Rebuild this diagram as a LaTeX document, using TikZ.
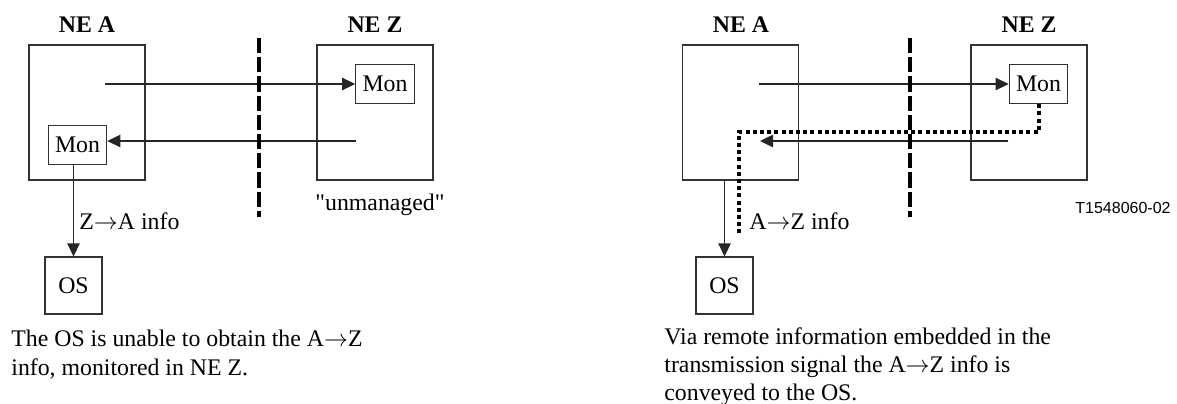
\documentclass[tikz,border=0pt]{standalone}
\usepackage{fontspec}
\setmainfont{Liberation Serif}
\newfontfamily\rawserif[Ligatures=TeXOff]{Liberation Serif}
\newfontfamily\labelsans{Liberation Sans}
\usetikzlibrary{arrows.meta,calc}
\begin{document}
\begin{tikzpicture}[x=0.5pt,y=-0.5pt,
  every node/.style={font=\fontsize{11.9}{14}\selectfont, inner sep=0pt, text=black},
  nebox/.style={draw=black!80, line width=0.6pt, minimum width=58pt, minimum height=67.5pt},
  monbox/.style={draw=black!80, line width=0.6pt, minimum width=29.25pt, minimum height=19.5pt},
  osbox/.style={draw=black!80, line width=0.6pt, minimum width=28.5pt, minimum height=28.5pt},
  title/.style={anchor=base, font=\fontsize{11.9}{14}\selectfont\bfseries},
  arr/.style={draw=black!85, line width=0.6pt, -{Triangle[length=6.5pt,width=6.2pt]}},
  sepline/.style={draw=black, line width=2pt, dash pattern=on 7.6pt off 2pt},
  dotline/.style={draw=black, line width=2pt, dash pattern=on 2pt off 1.6pt},
  lbl/.style={anchor=west},
  captext/.style={anchor=base west},
  tag/.style={anchor=east, font=\labelsans\fontsize{8}{9}\selectfont}]
\useasboundingbox (0,0) rectangle (1177,403);

% ---------- left panel ----------
\node[nebox] (neA1) at (87,112.5) {};
\node[title] (tA1) at (87,32) {NE A};
\node[nebox] (neZ1) at (375,112.5) {};
\node[title] (tZ1) at (375,32) {NE Z};
\node[monbox] (monZ1) at (385,84) {Mon};
\node[monbox] (monA1) at (77.5,145) {Mon};
\node[osbox] (os1) at (73.5,285.5) {OS};

\coordinate (s1) at (105,84);
\draw[arr] (s1) -- (monZ1.west);
\coordinate (s2) at (356,141);
\draw[arr] (s2) -- (monA1.east |- s2);
\draw[arr] (monA1.south -| os1.north) -- (os1.north);
\node[lbl] (zainfo) at (79,221) {Z$\rightarrow$A info};

\coordinate (dt1) at (259,38);
\coordinate (db1) at (259,217);
\draw[sepline] (dt1) -- (db1);

\node (unm) at (380,205) {\rawserif "unmanaged"};

\node[captext] (c1a) at (11,346.7) {The OS is unable to obtain the A$\rightarrow$Z};
\node[captext] (c1b) at (11,375) {info, monitored in NE Z.};

% ---------- right panel ----------
\node[nebox] (neA2) at (740.5,112.5) {};
\node[title] (tA2) at (741,32) {NE A};
\node[nebox] (neZ2) at (1029,112.5) {};
\node[title] (tZ2) at (1029,32) {NE Z};
\node[monbox] (monZ2) at (1038.5,84) {Mon};
\node[osbox] (os2) at (724.5,285.5) {OS};

\coordinate (s3) at (759,84);
\draw[arr] (s3) -- (monZ2.west);
\coordinate (s4) at (1008,141);
\coordinate (e4) at (760,141);
\draw[arr] (s4) -- (e4);
\draw[arr] (neA2.south -| os2.north) -- (os2.north);

\coordinate (k1) at (739,132);
\coordinate (k2) at (739,236);
\draw[dotline] (monZ2.south) |- (k1) -- (k2);

\node[lbl] (azinfo) at (749,221) {A$\rightarrow$Z info};

\coordinate (dt2) at (910,38);
\coordinate (db2) at (910,217);
\draw[sepline] (dt2) -- (db2);

\node[tag] (tag) at (1171,208) {T1548060-02};

\node[captext] (c2a) at (664,344) {Via remote information embedded in the};
\node[captext] (c2b) at (664,372.5) {transmission signal the A$\rightarrow$Z info is};
\node[captext] (c2c) at (664,400) {conveyed to the OS.};
\end{tikzpicture}
\end{document}
